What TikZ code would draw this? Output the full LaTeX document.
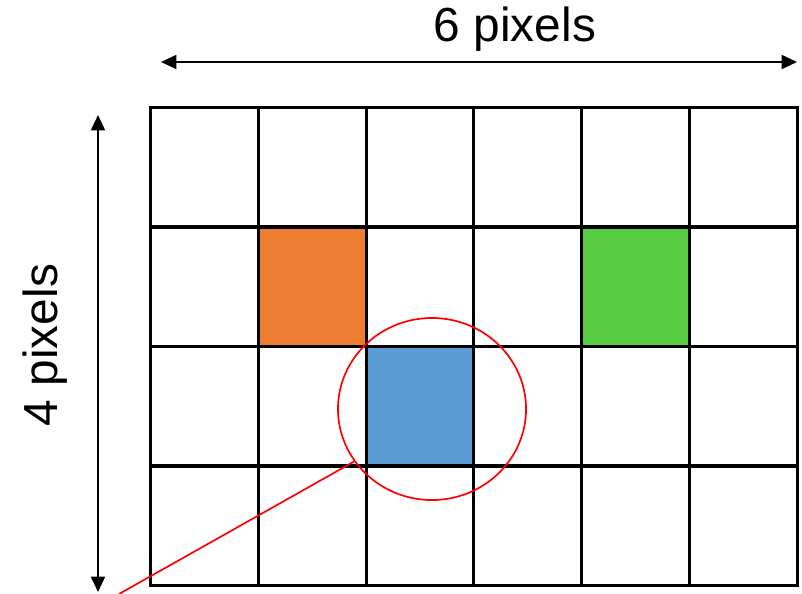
\documentclass[tikz,border=0pt]{standalone}
\usepackage{fontspec}
\setmainfont{Liberation Sans}
\usepackage{xcolor}
\usetikzlibrary{arrows.meta, shapes.geometric, positioning}

\definecolor{pxorange}{HTML}{ED7D31}
\definecolor{pxgreen}{HTML}{56CA40}
\definecolor{pxblue}{HTML}{5B9BD5}

\begin{document}
\begin{tikzpicture}[x=0.025cm,y=-0.025cm,
                    cell/.style={rectangle,draw,line width=2.2pt,minimum width=2.695cm,minimum height=2.9875cm,inner sep=0pt},
                    dim arrow/.style={{Triangle[length=11pt,width=10pt]}-{Triangle[length=11pt,width=10pt]},line width=1.4pt},
                    dim label/.style={font=\fontsize{34}{40}\selectfont}]

  \useasboundingbox (0,0) rectangle (802,593);

  % the 6 x 4 pixel grid
  \foreach \i in {0,...,5} {
    \foreach \j in {0,...,3} {
      \node[cell] (c\i\j) at ({150.5+107.8*(\i+0.5)},{107.5+119.5*(\j+0.5)}) {};
    }
  }
  \node[cell,fill=pxorange] at (c11) {};
  \node[cell,fill=pxgreen] at (c41) {};
  \node[cell,fill=pxblue] at (c22) {};

  % zoom circle
  \node (zoom) [ellipse,draw=red,line width=1.2pt,minimum width=4.7cm,minimum height=4.55cm] at (432,409) {};
  \coordinate (tail) at (119,594);
  \draw[red,line width=1.2pt] (zoom.214) -- (tail);

  % dimensions
  \coordinate (wl) at (161,62);
  \coordinate (wr) at (797,62);
  \coordinate (ht) at (98,115);
  \coordinate (hb) at (98,592);
  \draw[dim arrow] (wl) -- (wr);
  \draw[dim arrow] (ht) -- (hb);
  \node[dim label] (wtext) at (515,29) {6 pixels};
  \node[dim label,rotate=90] (htext) at (45,345) {4 pixels};
\end{tikzpicture}
\end{document}
